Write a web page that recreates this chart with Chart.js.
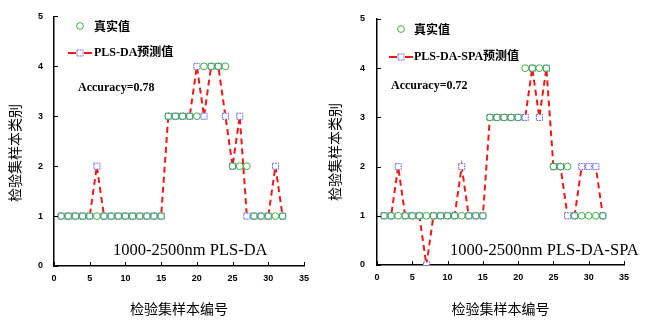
<!DOCTYPE html>
<html>
<head>
<meta charset="utf-8">
<script src="https://cdn.jsdelivr.net/npm/chart.js@4.4.1/dist/chart.umd.min.js"></script>
<style>
html,body{margin:0;padding:0;background:#fff;}
#wrap{position:relative;width:650px;height:321px;overflow:hidden;}
canvas{position:absolute;top:0;}
</style>
</head>
<body>
<div id="wrap">
<canvas id="c1" width="325" height="321" style="left:0"></canvas>
<canvas id="c2" width="325" height="321" style="left:325px"></canvas>
</div>
<script>
// ---- data ----
const sampleIds = [1,2,3,4,5,6,7,8,9,10,11,12,13,14,15,16,17,18,19,20,21,22,23,24,25,26,27,28,29,30,31,32];
const trueClass = [1,1,1,1,1,1,1,1,1,1,1,1,1,1,1,3,3,3,3,3,4,4,4,4,2,2,2,1,1,1,1,1];
const predPLSDA = [1,1,1,1,1,2,1,1,1,1,1,1,1,1,1,3,3,3,3,4,3,4,4,3,2,3,1,1,1,1,2,1];
const predSPA   = [1,1,2,1,1,1,0,1,1,1,1,2,1,1,1,3,3,3,3,3,3,4,3,4,2,2,1,1,2,2,2,1];
const xTicks = [0,5,10,15,20,25,30,35];
const yTicks = [0,1,2,3,4,5];
const legendTrue = '真实值';
const legendPredL = 'PLS-DA预测值';
const legendPredR = 'PLS-DA-SPA预测值';
const accL = 'Accuracy=0.78';
const accR = 'Accuracy=0.72';
const noteL = '1000-2500nm PLS-DA';
const noteR = '1000-2500nm PLS-DA-SPA';
const xTitle = '检验集样本编号';
const yTitle = '检验集样本类别';

Chart.defaults.devicePixelRatio = 1;

const GREEN = '#3fae3f';
const BLUE = '#3b3bff';
const RED = '#f01818';

// dotted blue square marker
function makeSquare(){
  const c = document.createElement('canvas');
  c.width = 9; c.height = 9;
  const x = c.getContext('2d');
  x.fillStyle = '#fff';
  x.fillRect(1,1,7,7);
  x.strokeStyle = BLUE;
  x.lineWidth = 1;
  x.setLineDash([1.5,1.2]);
  x.strokeRect(1.5,1.5,6,6);
  return c;
}
const sq = makeSquare();

function pts(vals){ return sampleIds.map((id,i)=>({x:id,y:vals[i]})); }

function makeChart(id, pred, cfg){
  const decor = {
    id:'decor',
    afterDraw(chart){
      const ctx = chart.ctx;
      const xs = chart.scales.x, ys = chart.scales.y;
      const ax = chart.chartArea.left, ay = chart.chartArea.bottom;
      ctx.save();
      // inward ticks
      ctx.strokeStyle = '#000'; ctx.lineWidth = 1;
      xTicks.forEach(v=>{ const px = Math.round(xs.getPixelForValue(v))+0.5; ctx.beginPath(); ctx.moveTo(px, ay); ctx.lineTo(px, ay-4); ctx.stroke(); });
      yTicks.forEach(v=>{ const py = Math.round(ys.getPixelForValue(v))+0.5; ctx.beginPath(); ctx.moveTo(ax, py); ctx.lineTo(ax+4, py); ctx.stroke(); });
      // y title
      ctx.save();
      ctx.translate(cfg.yTitleX, cfg.yTitleY);
      ctx.rotate(-Math.PI/2);
      ctx.fillStyle = '#000';
      ctx.font = '14px "Noto Sans CJK SC"';
      ctx.textAlign = 'center'; ctx.textBaseline = 'middle';
      ctx.fillText(yTitle, 0, 0);
      ctx.restore();
      // legend row 1
      ctx.beginPath();
      ctx.strokeStyle = GREEN; ctx.lineWidth = 1;
      ctx.arc(cfg.legX, cfg.leg1Y, 3.4, 0, Math.PI*2);
      ctx.stroke();
      ctx.fillStyle = '#000';
      ctx.textAlign = 'left'; ctx.textBaseline = 'middle';
      ctx.font = 'bold 12px "Noto Sans CJK SC"';
      ctx.fillText(legendTrue, cfg.legTextX, cfg.leg1Y);
      // legend row 2
      ctx.strokeStyle = RED; ctx.lineWidth = 2;
      ctx.beginPath(); ctx.moveTo(cfg.legX-12, cfg.leg2Y); ctx.lineTo(cfg.legX-4, cfg.leg2Y); ctx.stroke();
      ctx.beginPath(); ctx.moveTo(cfg.legX+4, cfg.leg2Y); ctx.lineTo(cfg.legX+12, cfg.leg2Y); ctx.stroke();
      ctx.drawImage(sq, cfg.legX-4.5, cfg.leg2Y-4.5);
      ctx.font = 'bold 12px "Liberation Serif", "Noto Sans CJK SC"';
      ctx.fillText(cfg.legPred, cfg.legTextX, cfg.leg2Y);
      // accuracy
      ctx.font = 'bold 12px "Liberation Serif"';
      ctx.fillText(cfg.acc, cfg.accX, cfg.accY);
      // note
      ctx.font = '16.5px "Liberation Serif"';
      ctx.textBaseline = 'alphabetic';
      ctx.fillText(cfg.note, cfg.noteX, 255);
      ctx.restore();
    }
  };
  return new Chart(document.getElementById(id), {
    type:'line',
    data:{
      datasets:[
        {
          label: legendTrue,
          data: pts(trueClass),
          showLine:false,
          pointStyle:'circle',
          pointRadius:3.4,
          pointBorderWidth:1,
          pointBorderColor:GREEN,
          pointBackgroundColor:'rgba(0,0,0,0)'
        },
        {
          label: cfg.legPred,
          data: pts(pred),
          borderColor:RED,
          borderWidth:2,
          borderDash:[6,4],
          tension:0,
          pointStyle:sq,
          pointRadius:4.5
        }
      ]
    },
    options:{
      responsive:false,
      animation:false,
      events:[],
      layout:{padding:{left:0,right:cfg.padRight,top:cfg.padTop,bottom:0}},
      plugins:{legend:{display:false},tooltip:{enabled:false}},
      scales:{
        x:{
          type:'linear', min:0, max:35,
          afterBuildTicks(s){ s.ticks = xTicks.map(v=>({value:v})); },
          afterFit(s){ s.height = cfg.xH; },
          grid:{display:false, drawTicks:false},
          border:{display:true,color:'#000',width:1.5},
          ticks:{padding:7,color:'#000',font:{family:'"Liberation Sans"',size:9,weight:'bold'}},
          title:{display:true,text:xTitle,color:'#000',font:{family:'"Noto Sans CJK SC"',size:14},padding:{top:0,bottom:4}}
        },
        y:{
          type:'linear', min:0, max:5,
          afterBuildTicks(s){ s.ticks = yTicks.map(v=>({value:v})); },
          afterFit(s){ s.width = cfg.yW; },
          grid:{display:false, drawTicks:false},
          border:{display:true,color:'#000',width:1.5},
          ticks:{padding:cfg.yPad,color:'#000',font:{family:'"Liberation Sans"',size:9,weight:'bold'}}
        }
      }
    },
    plugins:[decor]
  });
}

makeChart('c1', predPLSDA, {
  padRight:21, padTop:16, xH:55, yW:54, yPad:11,
  yTitleX:15, yTitleY:153,
  legX:80, legTextX:94, leg1Y:26, leg2Y:53, legPred:legendPredL,
  acc:accL, accX:78, accY:88,
  note:noteL, noteX:113
});
makeChart('c2', predSPA, {
  padRight:26, padTop:19, xH:56, yW:52, yPad:12,
  yTitleX:10, yTitleY:152,
  legX:76, legTextX:89, leg1Y:29, leg2Y:57, legPred:legendPredR,
  acc:accR, accX:66, accY:86,
  note:noteR, noteX:125
});
</script>
</body>
</html>
